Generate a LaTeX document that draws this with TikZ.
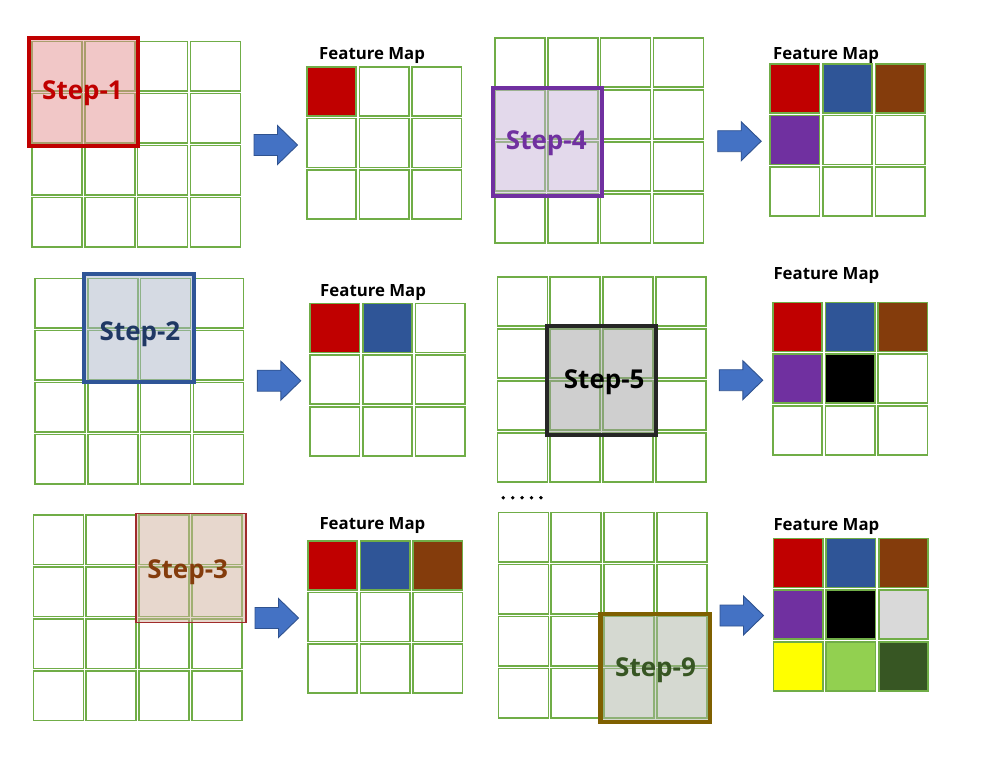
\documentclass[tikz,border=0pt]{standalone}
\usepackage{fontspec}
\setmainfont{Open Sans}
\definecolor{cgrid}{HTML}{70AD47}
\definecolor{cred}{HTML}{C00000}
\definecolor{cblue}{HTML}{2F5597}
\definecolor{cbrown}{HTML}{843C0C}
\definecolor{cpurple}{HTML}{7030A0}
\definecolor{cblack}{HTML}{000000}
\definecolor{cgray}{HTML}{D9D9D9}
\definecolor{cyellow}{HTML}{FFFF00}
\definecolor{clgreen}{HTML}{92D050}
\definecolor{cdgreen}{HTML}{375623}
\definecolor{cnavy}{HTML}{1F3864}
\definecolor{colive}{HTML}{7F6000}
\definecolor{cdred}{HTML}{A02B2B}
\definecolor{arrfill}{HTML}{4472C4}
\definecolor{arrdraw}{HTML}{2F528F}
\definecolor{f1}{RGB}{229,145,145}
\definecolor{f4}{RGB}{201,181,217}
\definecolor{f2}{RGB}{173,183,201}
\definecolor{f5}{RGB}{161,161,161}
\definecolor{f3}{RGB}{209,177,157}
\definecolor{f9}{RGB}{173,181,165}
\tikzset{
  cellsty/.style={draw=cgrid, line width=1.6pt},
  windowsty/.style={line width=4pt, fill opacity=0.5},
  steplabel/.style={font=\fontsize{26}{26}\selectfont\bfseries, anchor=base, inner sep=0pt},
  fmtitle/.style={font=\fontsize{16.8}{16.8}\selectfont\bfseries, anchor=base west, inner sep=0pt},
  arrowsty/.style={fill=arrfill, draw=arrdraw, line width=0.9pt},
}
\newcommand\inputgrid[2]{%
  \foreach \i in {0,...,3}{\foreach \j in {0,...,3}{%
    \draw[cellsty] ({#1+\i*52.8},{#2+\j*52}) rectangle ++(50,49.5);}}}
\newcommand\fmap[3]{%
  \foreach \c [count=\k from 0] in {#3}{%
    \pgfmathtruncatemacro\cc{mod(\k,3)}%
    \pgfmathtruncatemacro\rr{div(\k,3)}%
    \draw[cellsty, fill=\c] ({#1+\cc*52.7},{#2+\rr*51.7}) rectangle ++(49.5,49);}}
\newcommand\bluearrow[2]{%
  \draw[arrowsty] (#1,{#2-10.5}) -- ({#1+23.5},{#2-10.5}) -- ({#1+23.5},{#2-19.5})
    -- ({#1+43.5},#2) -- ({#1+23.5},{#2+19.5}) -- ({#1+23.5},{#2+10.5}) -- (#1,{#2+10.5}) -- cycle;}
\begin{document}
\begin{tikzpicture}[x=1pt,y=-1pt]
\fill[white] (0,0) rectangle (1000,769);
\useasboundingbox (0,0) rectangle (1000,769);

% ---------- Step 1 ----------
\inputgrid{32}{41.3}
\draw[windowsty, draw=cred, fill=f1] (28.7,38) rectangle (138,146);
\node[steplabel, text=cred] (s1) at (82.5,99) {Step-1};
\bluearrow{254}{145}
\node[fmtitle] (t1) at (319,59.3) {Feature Map};
\fmap{306.7}{66.7}{cred,white,white,white,white,white,white,white,white}

% ---------- Step 4 ----------
\inputgrid{495}{37.7}
\draw[windowsty, draw=cpurple, fill=f4] (493,88) rectangle (602.3,195.7);
\node[steplabel, text=cpurple] (s4) at (546.3,149.3) {Step-4};
\bluearrow{717.7}{141.2}
\node[fmtitle] (t4) at (773,59.3) {Feature Map};
\fmap{770}{63.7}{cred,cblue,cbrown,cpurple,white,white,white,white,white}

% ---------- Step 2 ----------
\inputgrid{35}{278.3}
\draw[windowsty, draw=cblue, fill=f2] (84.3,273.7) rectangle (194,382.3);
\node[steplabel, text=cnavy] (s2) at (140,340) {Step-2};
\bluearrow{257.3}{380.7}
\node[fmtitle] (t2) at (320,296) {Feature Map};
\fmap{310}{303.3}{cred,cblue,white,white,white,white,white,white,white}

% ---------- Step 5 ----------
\inputgrid{497.3}{276.7}
\draw[windowsty, draw=black!85, fill=f5] (547,326.3) rectangle (656.3,434.7);
\node[steplabel, text=black] (s5) at (604.2,388.3) {Step-5};
\bluearrow{719.3}{380.2}
\node[fmtitle] (t5) at (773.3,279) {Feature Map};
\fmap{772.7}{302.3}{cred,cblue,cbrown,cpurple,cblack,white,white,white,white}

% dots
\foreach \d [count=\n] in {503.3,512.7,522.1,531.5,540.9}
  \fill (\d,497.7) circle (1.9);

% ---------- Step 3 ----------
\inputgrid{33.3}{515}
\draw[windowsty, line width=1.6pt, draw=cdred, fill=f3] (135.8,513.5) rectangle (245.9,622.5);
\node[steplabel, text=cbrown] (s3) at (187.7,578.3) {Step-3};
\bluearrow{255}{618}
\node[fmtitle] (t3) at (319.3,529.3) {Feature Map};
\fmap{307.7}{540.7}{cred,cblue,cbrown,white,white,white,white,white,white}

% ---------- Step 9 ----------
\inputgrid{498.3}{512.3}
\draw[windowsty, line width=4.5pt, draw=colive, fill=f9] (600.5,613.9) rectangle (710.1,722.1);
\node[steplabel, text=cdgreen] (s9) at (655.5,676.7) {Step-9};
\bluearrow{720}{615.5}
\node[fmtitle] (t9) at (773.3,530) {Feature Map};
\fmap{773.3}{538.3}{cred,cblue,cbrown,cpurple,cblack,cgray,cyellow,clgreen,cdgreen}
\end{tikzpicture}
\end{document}
